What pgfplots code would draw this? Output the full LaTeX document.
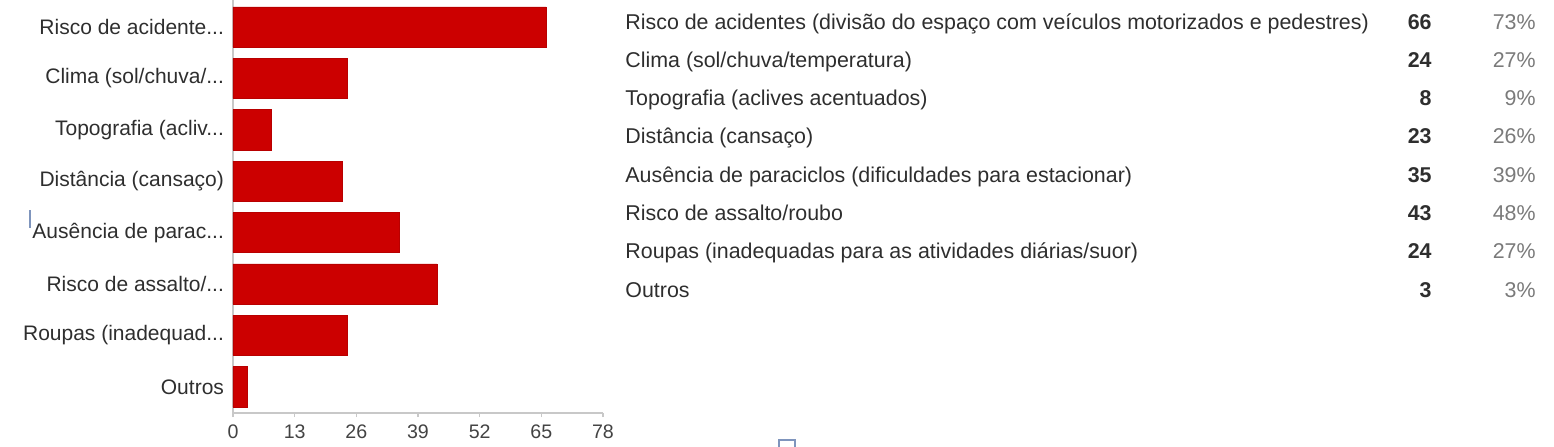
\documentclass[border=0pt]{standalone}
\usepackage{pgfplots}
\pgfplotsset{compat=1.18}
\usepackage{fontspec}
\setmainfont{Liberation Sans}
\definecolor{barred}{HTML}{CC0000}
\definecolor{txt}{HTML}{2E2E2E}
\definecolor{pct}{HTML}{7A7A7A}
\definecolor{axisgray}{HTML}{C8C8C8}
\definecolor{stray}{HTML}{7F95BD}
\newcommand\dd{...}
\begin{document}
\begin{tikzpicture}[x=0.5pt,y=0.5pt]
\path[use as bounding box] (-233,-33) rectangle (1321,413);
\begin{axis}[
  at={(0,0)}, anchor=south west,
  scale only axis,
  width=185pt, height=206.5pt,
  xbar, bar width=0.78,
  xmin=0, xmax=78,
  ymin=-0.525, ymax=7.51,
  y dir=reverse,
  xtick={0,13,26,39,52,65,78},
  ytick={0,1,2,3,4,5,6,7},
  yticklabels={{Risco de acidente\dd},{Clima (sol/chuva/\dd},{Topografia (acliv\dd},{Distância (cansaço)},{Ausência de parac\dd},{Risco de assalto/\dd},{Roupas (inadequad\dd},{Outros}},
  axis x line*=bottom,
  axis y line*=left,
  axis line style={axisgray, line width=0.8pt},
  x axis line style={-},
  y axis line style={-},
  tick style={axisgray, line width=0.6pt},
  major tick length=2pt,
  tick align=outside,
  ytick style={draw=none},
  xticklabel style={font=\fontsize{9.8}{11}\selectfont, text=txt!90, yshift=-0.5pt},
  yticklabel style={font=\fontsize{10.5}{12}\selectfont, text=txt, xshift=1pt},
  /pgf/number format/assume math mode=true,
  clip=false,
]
\addplot[fill=barred, draw=barred!90!black, line width=0.3pt] coordinates {
  (66,0) (24,1) (8,2) (23,3) (35,4) (43,5) (24,6) (3,7)
};
\end{axis}
\begin{scope}[font=\fontsize{10.7}{12}\selectfont, text=txt]
\foreach \ypx/\lab/\n/\p in {
  22/{Risco de acidentes (divisão do espaço com veículos motorizados e pedestres)}/66/73,
  60/{Clima (sol/chuva/temperatura)}/24/27,
  98/{Topografia (aclives acentuados)}/8/9,
  136/{Distância (cansaço)}/23/26,
  175/{Ausência de paraciclos (dificuldades para estacionar)}/35/39,
  213/{Risco de assalto/roubo}/43/48,
  251/{Roupas (inadequadas para as atividades diárias/suor)}/24/27,
  290/{Outros}/3/3}{
  \node[anchor=base west, inner sep=0pt] at (392, 413-\ypx-7) {\lab};
  \node[anchor=base east, inner sep=0pt, font=\fontsize{10.7}{12}\selectfont\bfseries] at (1199, 413-\ypx-7) {\n};
  \node[anchor=base east, inner sep=0pt, text=pct] at (1303, 413-\ypx-7) {\p\%};
}
\end{scope}
\draw[stray, line width=1pt] (-202.5,203) -- (-202.5,185);
\draw[stray, line width=1.2pt] (546,-40) rectangle (562,-27);
\end{tikzpicture}
\end{document}
